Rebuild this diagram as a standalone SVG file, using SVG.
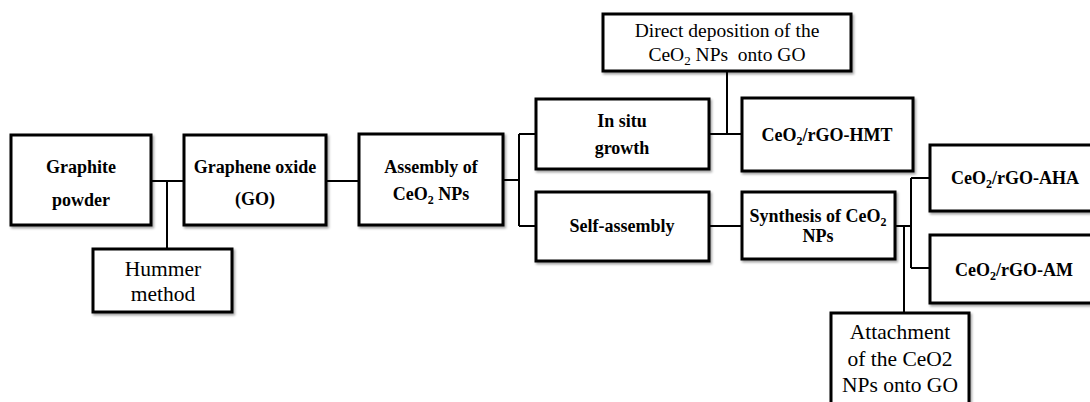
<svg xmlns="http://www.w3.org/2000/svg" width="1090" height="402" viewBox="0 0 1090 402">
<defs>
<filter id="sh" x="-10%" y="-10%" width="130%" height="130%">
<feDropShadow dx="1.5" dy="2" stdDeviation="1.2" flood-color="#000" flood-opacity="0.35"/>
</filter>
<style>
.box{fill:#fff;stroke:#000;stroke-width:3;filter:url(#sh)}
.con{fill:none;stroke:#000;stroke-width:2}
.b{font-family:"Liberation Serif","Times New Roman",serif;font-weight:bold;font-size:18px;text-anchor:middle;fill:#000}
.r{font-family:"Liberation Serif","Times New Roman",serif;font-size:21.5px;text-anchor:middle;fill:#000}
.r2{font-family:"Liberation Serif","Times New Roman",serif;font-size:19.5px;text-anchor:middle;fill:#000}
.sub{font-size:12px}
</style>
</defs>
<rect width="1090" height="402" fill="#fff"/>
<g id="connectors">
<path class="con" d="M151 181H184"/>
<path class="con" d="M167 181V249"/>
<path class="con" d="M326 181H359"/>
<path class="con" d="M503 180H519M519 134V226M519 134H536M519 226H536"/>
<path class="con" d="M709 134H742"/>
<path class="con" d="M727 71V134"/>
<path class="con" d="M709 226H742"/>
<path class="con" d="M895 226H911M911 178V268M911 178H930M911 268H930"/>
<path class="con" d="M904 226V313"/>
</g>
<g id="graphite">
<rect class="box" x="11" y="135" width="140" height="90"/>
<text class="b" x="81" y="173">Graphite</text>
<text class="b" x="81" y="206">powder</text>
</g>
<g id="go">
<rect class="box" x="184" y="135" width="142" height="90"/>
<text class="b" x="255" y="173">Graphene oxide</text>
<text class="b" x="255" y="205">(GO)</text>
</g>
<g id="hummer">
<rect class="box" x="93" y="249" width="139" height="63"/>
<text class="r" x="163" y="276">Hummer</text>
<text class="r" x="163" y="301">method</text>
</g>
<g id="assembly">
<rect class="box" x="359" y="134" width="144" height="91"/>
<text class="b" x="431" y="173">Assembly of</text>
<text class="b" x="431" y="200">CeO<tspan class="sub" dy="4">2</tspan><tspan dy="-4"> NPs</tspan></text>
</g>
<g id="insitu">
<rect class="box" x="536" y="99" width="173" height="70"/>
<text class="b" x="622" y="127">In situ</text>
<text class="b" x="622" y="154">growth</text>
</g>
<g id="selfassembly">
<rect class="box" x="536" y="192" width="173" height="69"/>
<text class="b" x="622" y="232">Self-assembly</text>
</g>
<g id="direct">
<rect class="box" x="603" y="14" width="248" height="57"/>
<text class="r2" x="727" y="37">Direct deposition of the</text>
<text class="r2" x="727" y="61">CeO<tspan font-size="13" dy="4">2</tspan><tspan dy="-4" xml:space="preserve"> NPs  onto GO</tspan></text>
</g>
<g id="hmt">
<rect class="box" x="742" y="98" width="171" height="73"/>
<text class="b" x="827" y="141">CeO<tspan class="sub" dy="4">2</tspan><tspan dy="-4">/rGO-HMT</tspan></text>
</g>
<g id="synthesis">
<rect class="box" x="742" y="192" width="153" height="67"/>
<text class="b" x="818" y="222">Synthesis of CeO<tspan class="sub" dy="4">2</tspan></text>
<text class="b" x="818" y="242">NPs</text>
</g>
<g id="aha">
<rect class="box" x="930" y="145" width="170" height="66"/>
<text class="b" x="1015" y="184">CeO<tspan class="sub" dy="4">2</tspan><tspan dy="-4">/rGO-AHA</tspan></text>
</g>
<g id="am">
<rect class="box" x="930" y="235" width="170" height="68"/>
<text class="b" x="1014" y="276">CeO<tspan class="sub" dy="4">2</tspan><tspan dy="-4">/rGO-AM</tspan></text>
</g>
<g id="attachment">
<rect class="box" x="831" y="313" width="138" height="95"/>
<text class="r" x="900" y="339">Attachment</text>
<text class="r" x="900" y="366">of the CeO2</text>
<text class="r" x="900" y="392">NPs onto GO</text>
</g>
</svg>
